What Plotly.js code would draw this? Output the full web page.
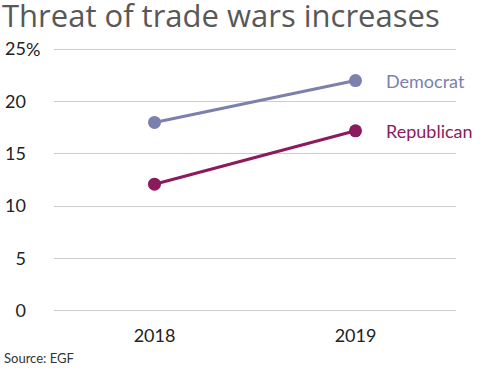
<!DOCTYPE html>
<html>
<head>
<meta charset="utf-8">
<script src="https://cdn.plot.ly/plotly-3.0.1.min.js"></script>
<style>html,body{margin:0;padding:0;background:#fff;}#chart{width:500px;height:370px;}</style>
</head>
<body>
<div id="chart"></div>
<script>
const years = ['2018', '2019'];
const democrat = [18.0, 22.0];
const republican = [12.1, 17.2];
const yTickVals = [0, 5, 10, 15, 20, 25];
const yTickText = ['0', '5', '10', '15', '20', '25'];
const seriesNames = ['Democrat', 'Republican'];
const colors = ['#7b80ad', '#8c1b5d'];

const traces = [democrat, republican].map((vals, i) => ({
  x: years, y: vals, type: 'scatter', mode: 'lines+markers',
  name: seriesNames[i],
  line: {color: colors[i], width: 3},
  marker: {color: colors[i], size: 13},
  cliponaxis: false, hoverinfo: 'skip'
}));

const labelAnn = [democrat, republican].map((vals, i) => ({
  x: years.length - 1, y: vals[vals.length - 1], xref: 'x', yref: 'y',
  text: seriesNames[i], showarrow: false, xanchor: 'left', xshift: 28,
  font: {family: 'Lato', size: 18, color: colors[i]}
}));

const layout = {
  width: 500, height: 370,
  margin: {l: 54, r: 44, t: 46, b: 56},
  paper_bgcolor: '#fff', plot_bgcolor: '#fff',
  showlegend: false,
  title: {text: 'Threat of trade wars increases', x: 0.004, xanchor: 'left', y: 0.986, yanchor: 'top',
    font: {family: 'Open Sans', size: 31, color: '#585858'}},
  xaxis: {type: 'category', range: [-0.5, 1.5], showgrid: false, zeroline: false, showline: false,
    ticks: '', tickfont: {family: 'Lato', size: 18, color: '#222'}, ticklabelstandoff: 9},
  yaxis: {range: [-0.3, 25.3], tickvals: yTickVals, ticktext: yTickText, showgrid: true, gridcolor: '#cccccc', gridwidth: 1,
    zeroline: false, showline: false, ticks: '', ticklabelstandoff: 27,
    tickfont: {family: 'Lato', size: 18, color: '#222'}},
  annotations: labelAnn.concat([
    {x: 0, xref: 'paper', y: 25, yref: 'y', text: '%', showarrow: false, xanchor: 'left', xshift: -30,
      font: {family: 'Lato', size: 18, color: '#222'}},
    {x: 0, xref: 'paper', y: 0, yref: 'paper', xshift: -52, yshift: -44, text: 'Source: EGF', showarrow: false,
      xanchor: 'left', yanchor: 'middle', font: {family: 'Lato', size: 13, color: '#333'}}
  ])
};

Plotly.newPlot('chart', traces, layout, {displayModeBar: false, staticPlot: true});
</script>
</body>
</html>
